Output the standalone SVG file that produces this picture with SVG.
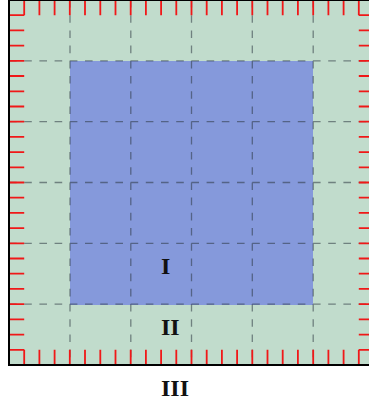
<svg xmlns="http://www.w3.org/2000/svg" width="369" height="405" viewBox="0 0 369 405">
<style>
.grid{stroke:#2b3640;stroke-opacity:0.55;stroke-width:1.3;stroke-dasharray:7.6 7.6;fill:none}
.tick{stroke:#f01818;stroke-width:1.8;fill:none}
.lbl{font-family:"Liberation Serif","Times New Roman",serif;font-weight:bold;font-size:24px;fill:#111}
</style>
<g id="region-II">
<rect x="9" y="0" width="365" height="365" fill="#c1dccc"/>
</g>
<g id="region-I">
<rect x="70" y="61" width="243" height="244" fill="#8599db"/>
</g>
<g id="connectors">
<path class="grid" d="M70 0V365M130.8 0V365M191.5 0V365M252.3 0V365M313.2 0V365M9 60.8H374M9 121.7H374M9 182.5H374M9 243.3H374M9 304.2H374"/>
<path class="tick" d="M24.2 0V15.2M39.4 0V15.2M54.6 0V15.2M69.8 0V15.2M85 0V15.2M100.3 0V15.2M115.5 0V15.2M130.7 0V15.2M145.9 0V15.2M161.1 0V15.2M176.3 0V15.2M191.5 0V15.2M206.7 0V15.2M221.9 0V15.2M237.1 0V15.2M252.3 0V15.2M267.5 0V15.2M282.7 0V15.2M297.9 0V15.2M313.2 0V15.2M328.4 0V15.2M343.6 0V15.2M358.8 0V15.2"/>
<path class="tick" d="M24.2 365V349.8M39.4 365V349.8M54.6 365V349.8M69.8 365V349.8M85 365V349.8M100.3 365V349.8M115.5 365V349.8M130.7 365V349.8M145.9 365V349.8M161.1 365V349.8M176.3 365V349.8M191.5 365V349.8M206.7 365V349.8M221.9 365V349.8M237.1 365V349.8M252.3 365V349.8M267.5 365V349.8M282.7 365V349.8M297.9 365V349.8M313.2 365V349.8M328.4 365V349.8M343.6 365V349.8M358.8 365V349.8"/>
<path class="tick" d="M9 15.2H24.2M9 30.4H24.2M9 45.6H24.2M9 60.8H24.2M9 76H24.2M9 91.3H24.2M9 106.5H24.2M9 121.7H24.2M9 136.9H24.2M9 152.1H24.2M9 167.3H24.2M9 182.5H24.2M9 197.7H24.2M9 212.9H24.2M9 228.1H24.2M9 243.3H24.2M9 258.5H24.2M9 273.7H24.2M9 288.9H24.2M9 304.2H24.2M9 319.4H24.2M9 334.6H24.2M9 349.8H24.2"/>
<path class="tick" d="M374 15.2H358.8M374 30.4H358.8M374 45.6H358.8M374 60.8H358.8M374 76H358.8M374 91.3H358.8M374 106.5H358.8M374 121.7H358.8M374 136.9H358.8M374 152.1H358.8M374 167.3H358.8M374 182.5H358.8M374 197.7H358.8M374 212.9H358.8M374 228.1H358.8M374 243.3H358.8M374 258.5H358.8M374 273.7H358.8M374 288.9H358.8M374 304.2H358.8M374 319.4H358.8M374 334.6H358.8M374 349.8H358.8"/>
<rect x="9" y="0" width="365" height="365" fill="none" stroke="#000" stroke-width="2"/>
</g>
<g id="labels">
<text class="lbl" x="161" y="274">I</text>
<text class="lbl" x="161" y="335">II</text>
<text class="lbl" x="161" y="396">III</text>
</g>
</svg>
